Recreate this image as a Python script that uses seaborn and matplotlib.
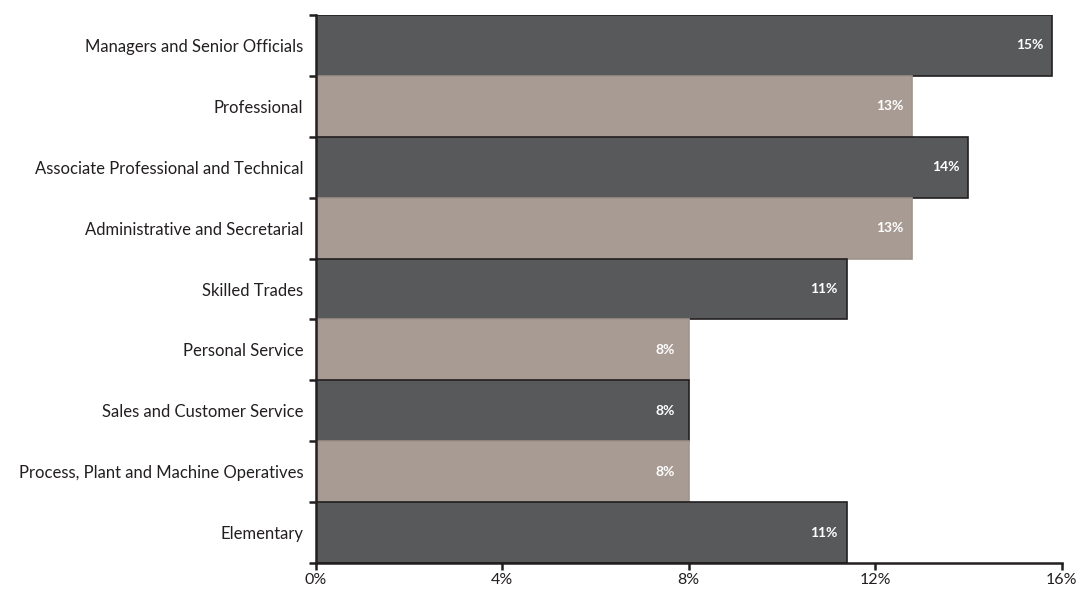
import matplotlib
matplotlib.use("Agg")
import matplotlib.pyplot as plt
import seaborn as sns
import pandas as pd

categories = [
    "Managers and Senior Officials",
    "Professional",
    "Associate Professional and Technical",
    "Administrative and Secretarial",
    "Skilled Trades",
    "Personal Service",
    "Sales and Customer Service",
    "Process, Plant and Machine Operatives",
    "Elementary",
]
values = [15.8, 12.8, 14.0, 12.8, 11.4, 8.0, 8.0, 8.0, 11.4]
value_labels = ["15%", "13%", "14%", "13%", "11%", "8%", "8%", "8%", "11%"]
x_ticks = [0, 4, 8, 12, 16]
x_tick_labels = ["0%", "4%", "8%", "12%", "16%"]

dark = "#58595b"
taupe = "#a89b93"
fills = [dark if i % 2 == 0 else taupe for i in range(len(categories))]
edges = ["#231f20" if i % 2 == 0 else "#a0948c" for i in range(len(categories))]

sns.set_style("white")
plt.rcParams["font.family"] = ["Lato", "DejaVu Sans"]

df = pd.DataFrame({"category": categories, "value": values})

fig = plt.figure(figsize=(10.83, 5.89), dpi=100)
ax = fig.add_axes([0.2915, 0.0441, 0.9803 - 0.2915, 0.9745 - 0.0441])

sns.barplot(data=df, x="value", y="category", hue="category",
            palette=dict(zip(categories, fills)), width=1.0, legend=False,
            orient="h", ax=ax, saturation=1)

for p, ec in zip(ax.patches, edges):
    p.set_edgecolor(ec)
    p.set_linewidth(1.2)

for i, (v, lab) in enumerate(zip(values, value_labels)):
    ax.annotate(lab, xy=(v, i), xytext=(-23, 0), textcoords="offset pixels",
                ha="center", va="center", color="white", fontsize=10,
                fontweight="bold")

ax.set_xlim(0, 16)
ax.set_ylim(len(categories) - 0.5, -0.5)
ax.set_xticks(x_ticks)
ax.set_xticklabels(x_tick_labels, fontsize=11.5, color="#231f20")
ax.set_yticks(range(len(categories)))
ax.set_yticklabels(categories, fontsize=12, color="#231f20")
ax.set_yticks([i - 0.5 for i in range(len(categories) + 1)], minor=True)
ax.tick_params(axis="y", which="major", left=True, length=0, pad=9)
ax.tick_params(axis="y", which="minor", left=True, length=5, width=1.8,
               direction="out", color="#231f20")
ax.tick_params(axis="x", which="major", bottom=True, length=5, width=1.8,
               direction="out", color="#231f20", pad=2)
ax.set_xlabel("")
ax.set_ylabel("")

for s in ["top", "right"]:
    ax.spines[s].set_visible(False)
for s in ["left", "bottom"]:
    ax.spines[s].set_linewidth(1.8)
    ax.spines[s].set_color("#231f20")

fig.savefig("out.png", dpi=100)
